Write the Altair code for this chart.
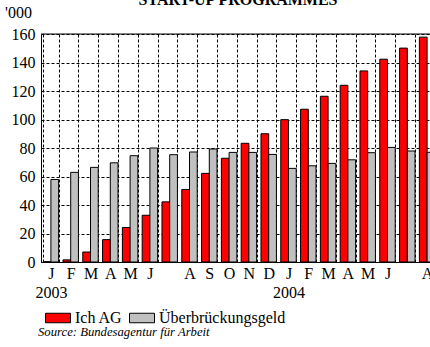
import altair as alt
import pandas as pd

# ---- data ----
months = ["2003-01", "2003-02", "2003-03", "2003-04", "2003-05", "2003-06",
          "2003-07", "2003-08", "2003-09", "2003-10", "2003-11", "2003-12",
          "2004-01", "2004-02", "2004-03", "2004-04", "2004-05", "2004-06",
          "2004-07", "2004-08"]
month_labels = ["J", "F", "M", "A", "M", "J", "", "A", "S", "O", "N", "D",
                "J", "F", "M", "A", "M", "J", "", "A"]
year_labels = {"2003-01": "2003", "2004-01": "2004"}
ich_ag = [0.2, 1.5, 7.0, 15.7, 24.2, 32.8, 42.2, 50.9, 62.2, 72.8, 83.3, 90.0,
          99.9, 107.2, 116.3, 124.0, 134.1, 142.3, 150.1, 157.8]
ueberbrueckung = [57.9, 62.9, 66.4, 69.6, 74.6, 80.0, 75.3, 77.2, 79.3, 76.9,
                  76.9, 75.5, 65.7, 67.5, 69.2, 71.7, 76.7, 80.4, 77.9, 77.0]
series = ["Ich AG", "Überbrückungsgeld"]
colors = ["#ff0000", "#c0c0c0"]
y_ticks = [0, 20, 40, 60, 80, 100, 120, 140, 160]
title_text = "START-UP PROGRAMMES"
unit_text = "'000"
source_text = "Source: Bundesagentur für Arbeit"

rows = []
for m, a, b in zip(months, ich_ag, ueberbrueckung):
    rows.append({"month": m, "series": series[0], "value": a})
    rows.append({"month": m, "series": series[1], "value": b})
df = pd.DataFrame(rows)

# label expression
parts = []
for m, lab in zip(months, month_labels):
    if m in year_labels:
        parts.append(f"'{m}': ['{lab}', '{year_labels[m]}']")
    else:
        parts.append(f"'{m}': '{lab}'")
label_expr = "{" + ", ".join(parts) + "}[datum.value]"

FONT = "Times New Roman, Liberation Serif, serif"
W = 389
H = 228

bars = alt.Chart(df).mark_bar(stroke="black", strokeWidth=1).encode(
    x=alt.X("month:N", sort=months,
            scale=alt.Scale(range=[0, 396], paddingInner=0.22, paddingOuter=0.11),
            axis=alt.Axis(title=None, labelExpr=label_expr, labelAngle=0,
                          labelFont=FONT, labelFontSize=16, labelColor="black",
                          labelPadding=3, labelLineHeight=19, labelOverlap=False,
                          ticks=False, domainColor="black", domainWidth=1,
                          grid=True, gridColor="black", gridDash=[3, 2],
                          gridWidth=1, tickBand="extent")),
    xOffset=alt.XOffset("series:N", sort=series,
                        scale=alt.Scale(paddingInner=0, paddingOuter=0)),
    y=alt.Y("value:Q", scale=alt.Scale(domain=[0, 160], nice=False),
            axis=alt.Axis(title=None, values=y_ticks, labelFont=FONT,
                          labelFontSize=16, labelColor="black", labelPadding=6,
                          labelOverlap=False,
                          ticks=False, domainColor="black", domainWidth=1,
                          grid=True, gridColor="black", gridDash=[3, 2],
                          gridWidth=1)),
    color=alt.Color("series:N", sort=series,
                    scale=alt.Scale(domain=series, range=colors),
                    legend=alt.Legend(title=None, orient="none", legendX=4,
                                      legendY=271, direction="horizontal",
                                      columns=2, columnPadding=4,
                                      symbolType="M-1,-0.38H1V0.38H-1Z",
                                      symbolSize=625, symbolStrokeColor="black",
                                      symbolStrokeWidth=1, symbolOpacity=1,
                                      labelFont=FONT, labelFontSize=16,
                                      labelColor="black", labelOffset=4,
                                      padding=0)),
)

top_border = alt.Chart(pd.DataFrame({"t": [title_text]})).mark_rule(
    color="black", strokeWidth=1).encode(
    y=alt.value(0), x=alt.value(0), x2=alt.value(420))

title = alt.Chart(pd.DataFrame({"t": [title_text]})).mark_text(
    font=FONT, fontSize=16, fontWeight="bold", align="center",
    baseline="alphabetic", color="black").encode(
    text="t:N", x=alt.value(197), y=alt.value(-29))

unit = alt.Chart(pd.DataFrame({"t": [unit_text]})).mark_text(
    font=FONT, fontSize=16, align="left", baseline="alphabetic",
    color="black").encode(text="t:N", x=alt.value(-36), y=alt.value(-16))

source = alt.Chart(pd.DataFrame({"t": [source_text]})).mark_text(
    font=FONT, fontSize=12.7, fontStyle="italic", align="left",
    baseline="alphabetic", color="black").encode(
    text="t:N", x=alt.value(-3), y=alt.value(302))

chart = alt.layer(bars, top_border, title, unit, source).properties(
    width=W, height=H,
    autosize=alt.AutoSizeParams(type="none"),
    padding={"left": 41, "top": 34, "right": 0, "bottom": 85},
    background="white",
).configure_view(strokeWidth=0)

chart.save("out.html", embed_options={"renderer": "svg", "actions": False})
